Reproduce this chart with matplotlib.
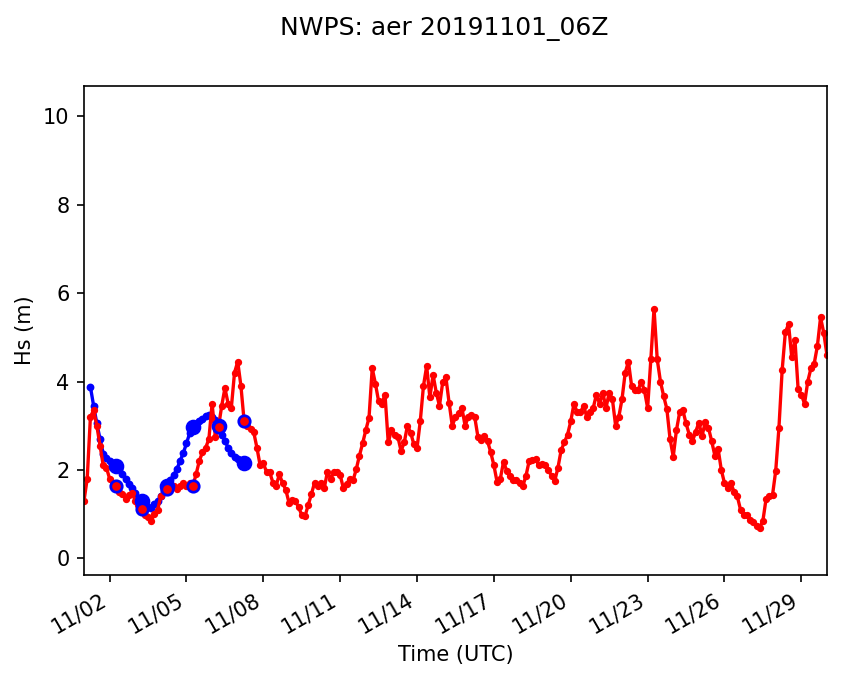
import numpy as np
import pandas as pd
import matplotlib
matplotlib.use("Agg")
import matplotlib.pyplot as plt
import matplotlib.dates as mdates

# Observed Hs (m), 3-hourly from 2019-11-01 00Z
obs_start = "2019-11-01 00:00"
obs_hs = [
    1.3, 1.8, 3.2, 3.35, 3.0, 2.55, 2.1, 2.05, 1.8, 1.65,
    1.64, 1.5, 1.45, 1.35, 1.42, 1.48, 1.3, 1.2, 1.12, 0.97,
    0.93, 0.85, 1.0, 1.1, 1.4, 1.5, 1.56, 1.64, 1.64, 1.56,
    1.64, 1.7, 1.64, 1.7, 1.64, 1.9, 2.2, 2.4, 2.5, 2.7,
    3.5, 2.75, 2.97, 3.45, 3.85, 3.5, 3.4, 4.2, 4.45, 3.9,
    3.1, 3.0, 2.92, 2.85, 2.5, 2.1, 2.15, 1.95, 1.94, 1.71,
    1.64, 1.9, 1.7, 1.55, 1.26, 1.32, 1.3, 1.15, 0.98, 0.95,
    1.2, 1.45, 1.71, 1.64, 1.71, 1.58, 1.95, 1.8, 1.94, 1.94,
    1.88, 1.58, 1.68, 1.8, 1.76, 2.01, 2.32, 2.6, 2.9, 3.18,
    4.3, 3.95, 3.55, 3.5, 3.7, 2.62, 2.9, 2.79, 2.75, 2.43,
    2.62, 3.0, 2.84, 2.58, 2.5, 3.1, 3.9, 4.35, 3.64, 4.15,
    3.75, 3.45, 3.98, 4.1, 3.52, 3.0, 3.2, 3.28, 3.4, 3.0,
    3.2, 3.25, 3.2, 2.75, 2.68, 2.77, 2.65, 2.4, 2.1, 1.72,
    1.8, 2.18, 1.98, 1.85, 1.78, 1.78, 1.71, 1.63, 1.86, 2.2,
    2.22, 2.25, 2.1, 2.13, 2.12, 2.0, 1.86, 1.75, 2.05, 2.45,
    2.62, 2.8, 3.1, 3.5, 3.3, 3.3, 3.45, 3.2, 3.3, 3.4,
    3.7, 3.5, 3.75, 3.4, 3.75, 3.6, 3.0, 3.2, 3.6, 4.2,
    4.45, 3.9, 3.8, 3.8, 4.0, 3.8, 3.4, 4.5, 5.65, 4.5,
    4.0, 3.67, 3.38, 2.7, 2.3, 2.9, 3.3, 3.35, 3.05, 2.8,
    2.65, 2.86, 3.07, 2.77, 3.08, 2.95, 2.65, 2.32, 2.48, 2.0,
    1.7, 1.6, 1.7, 1.5, 1.4, 1.1, 0.97, 0.98, 0.87, 0.82,
    0.72, 0.68, 0.85, 1.35, 1.4, 1.43, 1.98, 2.95, 4.25, 5.11,
    5.3, 4.55, 4.95, 3.82, 3.7, 3.5, 4.0, 4.3, 4.4, 4.8,
    5.45, 5.1, 4.6,
]

# NWPS forecast Hs (m), 3-hourly from 2019-11-01 06Z (0-144 h)
fc_start = "2019-11-01 06:00"
fc_hs = [
    3.88, 3.45, 3.05, 2.7, 2.37, 2.27, 2.2, 2.13, 2.08, 2.01,
    1.91, 1.8, 1.69, 1.58, 1.47, 1.37, 1.3, 1.21, 1.17, 1.14,
    1.22, 1.3, 1.41, 1.52, 1.64, 1.78, 1.88, 2.02, 2.2, 2.38,
    2.6, 2.83, 2.96, 3.03, 3.1, 3.16, 3.22, 3.24, 3.2, 3.12,
    2.99, 2.8, 2.66, 2.5, 2.38, 2.3, 2.24, 2.2, 2.16,
]

# Daily verification times (forecast hours 24..144)
verif_hours = [24, 48, 72, 96, 120, 144]

tick_days = [2, 5, 8, 11, 14, 17, 20, 23, 26, 29]

obs_t = pd.date_range(obs_start, periods=len(obs_hs), freq="3h")
fc_t = pd.date_range(fc_start, periods=len(fc_hs), freq="3h")
obs_s = pd.Series(obs_hs, index=obs_t)
fc_s = pd.Series(fc_hs, index=fc_t)
vt = [pd.Timestamp(fc_start) + pd.Timedelta(hours=h) for h in verif_hours]

fig = plt.figure(figsize=(5.64, 4.54), dpi=150)
ax = fig.add_axes([0.0993, 0.1557, 0.8782, 0.718])

ax.plot(fc_s.index, fc_s.values, "b.-", lw=1.6, ms=5.5)
ax.plot(obs_s.index, obs_s.values, "r.-", lw=1.6, ms=5)
ax.plot(vt, fc_s.loc[vt].values, "o", color="b", ms=6.5, ls="none")
ax.plot(vt, obs_s.loc[vt].values, "o", mfc="r", mec="b", mew=1.3, ms=5.5, ls="none")

ax.set_xlim(obs_t[0], obs_t[-1])
ax.set_ylim(-0.38, 10.69)
ax.set_yticks([0, 2, 4, 6, 8, 10])
ax.xaxis.set_major_locator(mdates.DayLocator(bymonthday=tick_days))
ax.xaxis.set_major_formatter(mdates.DateFormatter("%m/%d"))
for lab in ax.get_xticklabels():
    lab.set_rotation(30)
    lab.set_ha("right")

ax.set_xlabel("Time (UTC)")
ax.set_ylabel("Hs (m)")
fig.suptitle("NWPS: aer 20191101_06Z", x=0.525, y=0.975)

fig.savefig("out.png", dpi=150)
